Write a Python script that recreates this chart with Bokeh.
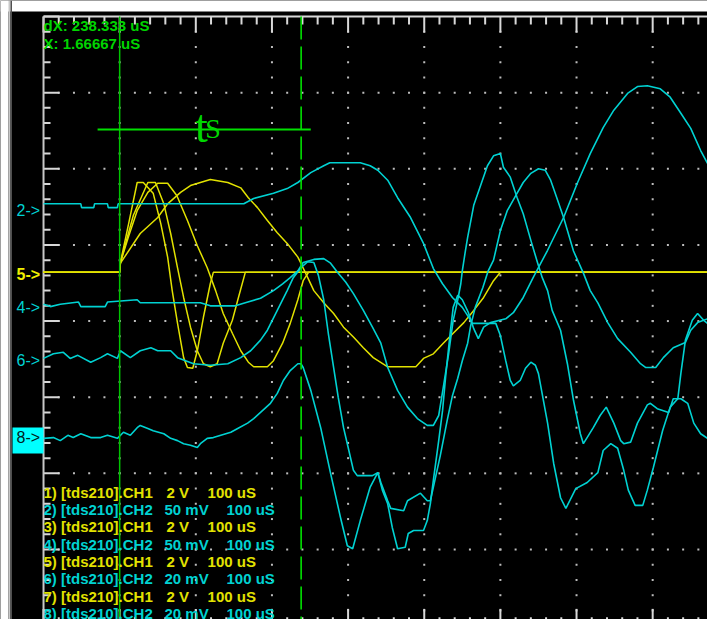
import numpy as np
from bokeh.plotting import figure
from bokeh.models import Range1d, Label, BoxAnnotation
from bokeh.embed import file_html
from bokeh.resources import INLINE

# ---- data: time in microseconds, amplitude in screen divisions (0 = centre line) ----
# yellow bursts (CH1 traces 1,3,5,7)
ch1_t = [-100, 0, 1, 27, 50, 63, 80, 93, 106, 119, 142, 159, 169, 181, 194, 207, 220, 234, 238, 247,
         255, 268, 281, 294, 307, 320, 333, 352, 389, 399, 412, 425, 438, 452, 465, 478, 491, 500, 772]
ch1_v = [0.64, 0.64, 0.76, 1.15, 1.36, 1.54, 1.69, 1.78, 1.82, 1.86, 1.82, 1.75, 1.62, 1.49, 1.32, 1.16, 1.02, 0.84, 0.76, 0.57,
         0.40, 0.24, 0.10, -0.08, -0.21, -0.35, -0.48, -0.60, -0.60, -0.49, -0.43, -0.29, -0.16, -0.02, 0.14, 0.31, 0.53, 0.64, 0.64]

ch3_t = [-100, 0, 1, 12, 23, 37, 50, 63, 75, 89, 102, 115, 126, 136, 148, 159, 169, 176, 194, 202,
         214, 224, 234, 241, 248, 772]
ch3_v = [0.64, 0.64, 0.77, 1.12, 1.45, 1.69, 1.81, 1.81, 1.65, 1.32, 0.99, 0.70, 0.40, 0.10, -0.16, -0.39, -0.54, -0.60, -0.60, -0.52,
         -0.29, -0.03, 0.28, 0.53, 0.64, 0.64]

ch5_t = [-100, 0, 1, 18, 37, 47, 58, 67, 76, 84, 93, 102, 110, 119, 128, 136, 148, 156, 165, 772]
ch5_v = [0.64, 0.64, 0.77, 1.39, 1.82, 1.82, 1.54, 1.15, 0.70, 0.31, -0.08, -0.39, -0.56, -0.60, -0.56, -0.29, 0.01, 0.31, 0.64, 0.64]

ch7_t = [-100, 0, 1, 12, 23, 31, 44, 54, 63, 69, 76, 84, 89, 96, 102, 110, 119, 123, 772]
ch7_v = [0.64, 0.64, 0.77, 1.29, 1.82, 1.82, 1.68, 1.28, 0.84, 0.40, -0.03, -0.48, -0.61, -0.62, -0.39, 0.05, 0.49, 0.64, 0.64]

# cyan responses (CH2 traces 2,4,6,8)
ch2_t = [-100, -51, -50, -34, -33, -16, -15, -3, -2, 163, 176, 202, 220, 234, 251, 268, 276, 316, 329, 339,
         352, 365, 382, 399, 412, 424, 437, 450, 461, 463, 494, 500, 507, 513, 517, 526, 533, 540, 546, 550,
         562, 570, 579, 586, 599, 614, 628, 635, 645, 654, 662, 668, 677, 687, 693, 701, 713, 723, 733, 737,
         743, 752, 759, 767, 772]
ch2_v = [1.54, 1.54, 1.49, 1.49, 1.54, 1.54, 1.49, 1.49, 1.54, 1.54, 1.61, 1.68, 1.74, 1.82, 1.95, 2.04, 2.08, 2.08, 2.04, 1.98,
         1.85, 1.62, 1.36, 1.02, 0.69, 0.49, 0.31, 0.18, 0.01, -0.03, -0.03, -0.19, -0.52, -0.78, -0.85, -0.78, -0.62, -0.54, -0.58, -0.69,
         -1.34, -1.87, -2.32, -2.46, -2.20, -2.12, -1.99, -1.70, -1.61, -1.67, -1.96, -2.22, -2.42, -2.42, -2.22, -1.92, -1.44, -1.13, -1.02, -0.69,
         -0.25, 0.01, 0.10, 0.01, -0.03]

ch4_t = [-100, -91, -78, -54, -51, -19, -16, 23, 27, 106, 119, 152, 165, 185, 202, 214, 224, 234, 241, 255,
         268, 277, 286, 297, 307, 320, 332, 343, 352, 365, 378, 391, 404, 412, 419, 425, 432, 438, 444, 448,
         450, 454, 457, 465, 474, 483, 491, 500, 504, 513, 522, 530, 540, 549, 555, 562, 568, 579, 588, 596,
         605, 609, 622, 631, 639, 649, 658, 662, 671, 680, 693, 697, 706, 721, 727, 737, 746, 754, 763, 772]
ch4_v = [0.22, 0.19, 0.22, 0.25, 0.19, 0.19, 0.25, 0.28, 0.24, 0.24, 0.20, 0.20, 0.24, 0.30, 0.40, 0.49, 0.57, 0.66, 0.77, 0.81,
         0.82, 0.76, 0.64, 0.51, 0.36, 0.14, -0.08, -0.29, -0.61, -0.91, -1.13, -1.28, -1.37, -1.37, -1.24, -0.87, -0.43, 0.01, 0.28, 0.49,
         0.66, 0.92, 1.10, 1.52, 1.78, 2.04, 2.17, 2.20, 2.02, 1.89, 1.62, 1.41, 1.06, 0.76, 0.57, 0.40, 0.14, -0.12, -0.56, -1.04,
         -1.48, -1.61, -1.40, -1.24, -1.13, -1.34, -1.57, -1.61, -1.59, -1.34, -1.10, -1.08, -1.15, -1.20, -1.02, -1.02, -1.08, -1.34, -1.48, -1.54]

ch6_t = [-100, -87, -74, -65, -55, -38, -25, -16, -3, 1, 14, 27, 41, 50, 67, 76, 97, 119, 142, 159,
         172, 185, 194, 207, 220, 228, 238, 247, 255, 261, 268, 274, 281, 287, 294, 301, 307, 312, 332, 339,
         345, 352, 358, 365, 375, 379, 386, 399, 404, 408, 412, 419, 424, 428, 434, 438, 444, 450, 458, 465,
         471, 478, 487, 507, 517, 530, 543, 562, 583, 601, 618, 635, 649, 667, 680, 693, 710, 723, 737, 750,
         763, 772]
ch6_v = [-0.49, -0.43, -0.41, -0.49, -0.45, -0.54, -0.48, -0.43, -0.49, -0.39, -0.48, -0.39, -0.35, -0.39, -0.39, -0.48, -0.56, -0.58, -0.56, -0.48,
         -0.39, -0.25, -0.12, 0.14, 0.40, 0.57, 0.70, 0.78, 0.77, 0.60, 0.28, -0.16, -0.61, -1.00, -1.40, -1.70, -1.96, -2.03, -2.03, -1.99,
         -2.22, -2.40, -2.71, -2.99, -2.97, -2.79, -2.75, -2.75, -2.62, -2.40, -2.09, -1.57, -1.18, -0.74, -0.16, 0.18, 0.34, 0.28, 0.11, -0.10,
         -0.23, -0.08, -0.02, 0.03, 0.11, 0.31, 0.57, 0.93, 1.36, 1.81, 2.20, 2.54, 2.77, 2.99, 3.08, 3.09, 3.05, 2.94, 2.73, 2.53,
         2.24, 2.07]

ch8_t = [-100, -87, -78, -68, -61, -51, -38, -25, -16, -3, 5, 14, 23, 27, 37, 44, 58, 67, 76, 84,
         93, 102, 106, 115, 123, 146, 155, 168, 176, 185, 198, 207, 215, 224, 234, 238, 241, 251, 264, 277,
         290, 299, 306, 316, 329, 339, 343, 352, 356, 373, 378, 395, 404, 408, 412, 421, 430, 437, 444, 450,
         457, 461, 467, 477, 484, 491, 500, 509, 522, 530, 540, 550, 559, 566, 572, 583, 596, 609, 618, 628,
         641, 654, 671, 684, 691, 704, 714, 727, 743, 750, 759, 772]
ch8_v = [-1.54, -1.53, -1.57, -1.50, -1.53, -1.48, -1.53, -1.53, -1.50, -1.54, -1.46, -1.50, -1.40, -1.37, -1.41, -1.44, -1.48, -1.54, -1.57, -1.61,
         -1.63, -1.66, -1.61, -1.54, -1.53, -1.46, -1.41, -1.34, -1.28, -1.20, -1.08, -0.95, -0.78, -0.65, -0.56, -0.56, -0.61, -0.91, -1.40, -2.00,
         -2.58, -2.95, -2.99, -2.62, -2.18, -1.99, -2.12, -2.36, -2.46, -2.49, -2.36, -2.26, -2.36, -2.36, -2.18, -1.77, -1.31, -0.98, -0.75, -0.52,
         -0.29, -0.06, 0.18, 0.44, 0.66, 0.80, 1.19, 1.45, 1.68, 1.82, 1.94, 2.00, 1.98, 1.85, 1.68, 1.36, 0.92, 0.63, 0.40, 0.24,
         -0.02, -0.23, -0.41, -0.56, -0.61, -0.61, -0.48, -0.35, -0.28, -0.12, -0.02, 0.03]

legend_names = ["1) [tds210].CH1", "2) [tds210].CH2", "3) [tds210].CH1", "4) [tds210].CH2",
                "5) [tds210].CH1", "6) [tds210].CH2", "7) [tds210].CH1", "8) [tds210].CH2"]
legend_scales = ["2 V", "50 mV", "2 V", "50 mV", "2 V", "20 mV", "2 V", "20 mV"]
legend_times = ["100 uS"] * 8
marker_labels = ["2->", "5->", "4->", "6->", "8->"]
marker_levels = [1.452, 0.612, 0.172, -0.517, -1.529]
readouts = ["dX: 238.333 uS", "X: 1.66667 uS"]
cursor1_t = 0.0
cursor2_t = 238.333
ts_span = (-29.0, 251.0)
ts_level = 2.516

YEL = "#e2e200"
CYA = "#00d2d2"
GRN = "#00e000"

p = figure(width=707, height=619, output_backend="svg", toolbar_location=None, title=None,
           x_range=Range1d(-156.5, 772.0), y_range=Range1d(-3.919, 4.210),
           x_axis_location=None, y_axis_location=None, min_border=0,
           background_fill_color="black", border_fill_color="black", outline_line_color=None)
p.grid.visible = False

# dotted graticule
dot_t, dot_v = [], []
for tm in range(0, 800, 100):
    for yv in np.arange(-3.8, 3.9, 0.2):
        dot_t.append(tm); dot_v.append(round(yv, 2))
for ym in range(-3, 4):
    for tv in range(-80, 780, 20):
        dot_t.append(tv); dot_v.append(ym)
p.scatter(dot_t, dot_v, marker="square", size=2, fill_color="#bcbcbc", line_color=None)

# rulers
tick_t = list(range(-100, 780, 20))
top_len = [0.21 if (t + 100) % 100 == 0 else 0.105 for t in tick_t]
p.segment(x0=tick_t, y0=[4.0] * len(tick_t), x1=tick_t, y1=[4.0 - l for l in top_len],
          line_color="#d8d8d8", line_width=2)
p.segment(x0=tick_t, y0=[-4.0] * len(tick_t), x1=tick_t, y1=[-4.0 + l * 1.05 for l in top_len],
          line_color="#d8d8d8", line_width=2)
p.segment(x0=[-100], y0=[4.0], x1=[780], y1=[4.0], line_color="#d8d8d8", line_width=2)
tick_y = [round(v, 2) for v in np.arange(-4.0, 4.01, 0.2)]
left_len = [21 if abs(v - round(v)) < 1e-6 else 9.2 for v in tick_y]
p.segment(x0=[-100] * len(tick_y), y0=tick_y, x1=[-100 + l for l in left_len], y1=tick_y,
          line_color="#d8d8d8", line_width=2)
p.segment(x0=[-100], y0=[4.0], x1=[-100], y1=[-4.0], line_color="#c8c8c8", line_width=2)

# traces
for tt, vv in [(ch1_t, ch1_v), (ch3_t, ch3_v), (ch5_t, ch5_v), (ch7_t, ch7_v)]:
    p.line(tt, vv, line_color=YEL, line_width=1.5)
for tt, vv in [(ch2_t, ch2_v), (ch4_t, ch4_v), (ch6_t, ch6_v), (ch8_t, ch8_v)]:
    p.line(tt, vv, line_color=CYA, line_width=1.6)

# cursors
p.segment(x0=[cursor1_t], y0=[4.0], x1=[cursor1_t], y1=[-4.0], line_color="#00c400", line_width=1.5)
p.segment(x0=[cursor2_t], y0=[4.0], x1=[cursor2_t], y1=[-4.0], line_color=GRN, line_width=1.6,
          line_dash="23 7")
p.segment(x0=[ts_span[0]], y0=[ts_level], x1=[ts_span[1]], y1=[ts_level], line_color=GRN, line_width=2)

# window decorations
p.add_layout(BoxAnnotation(bottom=4.066, fill_color="white", fill_alpha=1, line_color=None))
p.add_layout(BoxAnnotation(right=-146.0, fill_color="white", fill_alpha=1, line_color=None))
p.add_layout(BoxAnnotation(left=-146.0, right=-143.4, fill_color="#c8c8c8", fill_alpha=1, line_color=None))
p.add_layout(BoxAnnotation(left=-143.4, right=-141.4, fill_color="#505050", fill_alpha=1, line_color=None))
p.add_layout(BoxAnnotation(left=-140.7, right=-100, bottom=-1.739, top=-1.397,
                           fill_color="#00ffff", fill_alpha=1, line_color=None))

# t_S annotation
p.add_layout(Label(x=99.0, y=2.556, text="t", text_color="#00d800", text_font="Liberation Serif",
                   text_font_size="46px", text_baseline="alphabetic"))
p.add_layout(Label(x=112.5, y=2.529, text="S", text_color="#00d800", text_font="Liberation Serif",
                   text_font_size="28px", text_baseline="alphabetic"))

# readouts
for i, txt in enumerate(readouts):
    p.add_layout(Label(x=-100, y=3.882 - i * 0.237, text=txt, text_color="#00d400",
                       text_font="Liberation Sans", text_font_style="bold", text_font_size="15px",
                       text_baseline="middle"))

# channel markers
for txt, lv in zip(marker_labels, marker_levels):
    if txt.startswith("5"):
        col, style = "#f0f000", "bold"
    elif txt.startswith("8"):
        col, style = "#002020", "normal"
    else:
        col, style = CYA, "normal"
    p.add_layout(Label(x=-104.5, y=lv, text=txt, text_color=col, text_font="Liberation Sans",
                       text_font_style=style, text_font_size="16px", text_align="right",
                       text_baseline="middle"))

# legend
for i, name in enumerate(legend_names):
    col = YEL if i % 2 == 0 else CYA
    yy = -2.247 - i * 0.2278
    sx = 61.5 if i % 2 == 0 else 58.9
    tx = 115.4 if i % 2 == 0 else 140.3
    for xx, txt in [(-100, name), (sx, legend_scales[i]), (tx, legend_times[i])]:
        p.add_layout(Label(x=xx, y=yy, text=txt, text_color=col, text_font="Liberation Sans",
                           text_font_style="bold", text_font_size="15px", text_baseline="middle"))

open("out.html", "w").write(file_html(p, INLINE))
